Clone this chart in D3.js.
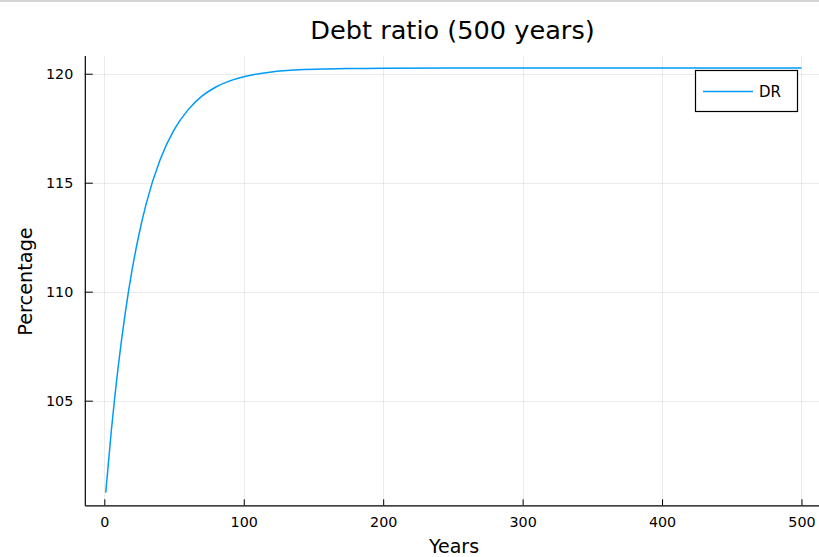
<!DOCTYPE html>
<html>
<head>
<meta charset="utf-8">
<script src="https://cdn.jsdelivr.net/npm/d3@7"></script>
<style>
  html, body { margin: 0; padding: 0; background: #fff; }
  svg { display: block; font-family: "DejaVu Sans", sans-serif; }
</style>
</head>
<body>
<svg id="chart" width="819" height="557"></svg>
<script>
const years = [1, 5, 10, 15, 20, 25, 30, 40, 50, 60, 70, 80, 90, 100, 120, 140, 160, 180, 200, 250, 300, 400, 500];
const dr = [100.78, 103.61, 106.58, 109.02, 111.03, 112.67, 114.03, 116.05, 117.42, 118.34, 118.97, 119.39, 119.67, 119.86, 120.08, 120.18, 120.22, 120.24, 120.25, 120.26, 120.26, 120.26, 120.26];
const xTicks = [0, 100, 200, 300, 400, 500];
const yTicks = [105, 110, 115, 120];
const seriesName = "DR";
const title = "Debt ratio (500 years)";
const xLabel = "Years";
const yLabel = "Percentage";

const svg = d3.select("#chart");
const W = 819, H = 557;
const pLeft = 84.8, pRight = 822.4, pTop = 55.4, pBottom = 505.3;

const x = d3.scaleLinear().domain([-14, 515]).range([pLeft, pRight]);
const y = d3.scaleLinear().domain([100.2, 120.84]).range([pBottom, pTop]);

// top border artifact
svg.append("rect").attr("x", 0).attr("y", 0).attr("width", W).attr("height", 2).attr("fill", "#d4d4d4");

// grid
const grid = svg.append("g").attr("stroke", "#000").attr("stroke-opacity", 0.08).attr("stroke-width", 1);
grid.selectAll(".vx").data(xTicks).join("line")
  .attr("x1", d => Math.round(x(d)) + 0.5).attr("x2", d => Math.round(x(d)) + 0.5)
  .attr("y1", pTop).attr("y2", pBottom);
grid.selectAll(".hy").data(yTicks).join("line")
  .attr("y1", d => Math.round(y(d)) + 0.5).attr("y2", d => Math.round(y(d)) + 0.5)
  .attr("x1", pLeft).attr("x2", W);

// axes
const xAxis = d3.axisBottom(x).tickValues(xTicks).tickSizeInner(-6).tickSizeOuter(0).tickPadding(12);
const yAxis = d3.axisLeft(y).tickValues(yTicks).tickSizeInner(-8).tickSizeOuter(0).tickPadding(11.5);

const gx = svg.append("g").attr("transform", `translate(0,${pBottom})`).call(xAxis);
const gy = svg.append("g").attr("transform", `translate(${pLeft},0)`).call(yAxis);
[gx, gy].forEach(g => {
  g.select(".domain").attr("stroke", "#000").attr("stroke-width", 1.2);
  g.selectAll(".tick line").attr("stroke", "#000").attr("stroke-width", 1);
  g.selectAll(".tick text").attr("font-size", 14.3).attr("font-family", "DejaVu Sans, sans-serif").attr("fill", "#000");
});

// line
const line = d3.line().x((d, i) => x(years[i])).y(d => y(d)).curve(d3.curveMonotoneX);
svg.append("path").datum(dr).attr("d", line)
  .attr("fill", "none").attr("stroke", "#009af9").attr("stroke-width", 1.5);

// title & labels
svg.append("text").attr("x", 452.5).attr("y", 39).attr("text-anchor", "middle")
  .attr("font-size", 25.6).attr("fill", "#000").text(title);
svg.append("text").attr("x", 454).attr("y", 553).attr("text-anchor", "middle")
  .attr("font-size", 19).attr("fill", "#000").text(xLabel);
svg.append("text").attr("transform", "translate(32,281.5) rotate(-90)").attr("text-anchor", "middle")
  .attr("font-size", 19.3).attr("fill", "#000").text(yLabel);

// legend
const lg = svg.append("g");
lg.append("rect").attr("x", 695.5).attr("y", 70.5).attr("width", 102).attr("height", 41)
  .attr("fill", "#fff").attr("stroke", "#000").attr("stroke-width", 1.2);
lg.append("line").attr("x1", 703).attr("x2", 753).attr("y1", 91.5).attr("y2", 91.5)
  .attr("stroke", "#009af9").attr("stroke-width", 1.5);
lg.append("text").attr("x", 759).attr("y", 97.3).attr("font-size", 15).attr("fill", "#000").text(seriesName);
</script>
</body>
</html>
